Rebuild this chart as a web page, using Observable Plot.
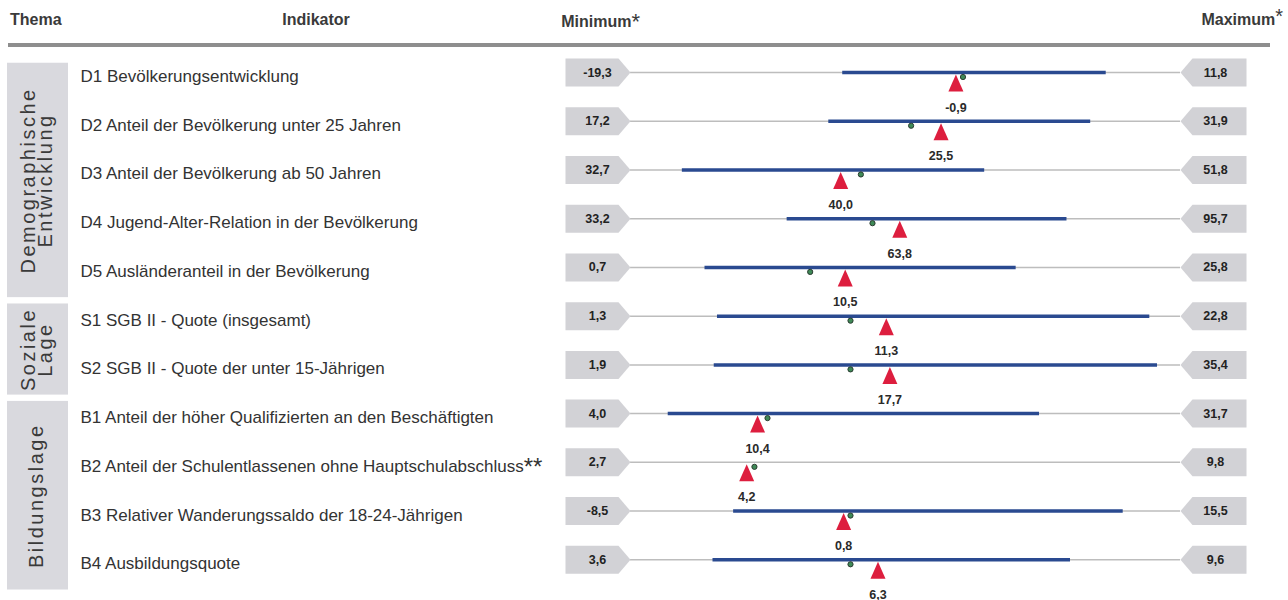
<!DOCTYPE html>
<html><head><meta charset="utf-8">
<script src="https://cdn.jsdelivr.net/npm/d3@7"></script>
<script src="https://cdn.jsdelivr.net/npm/@observablehq/plot@0.6"></script>
<style>
body{margin:0;background:#fff;font-family:"Liberation Sans",Arial,sans-serif;}
#header{position:relative;width:1288px;height:50px;color:#3a3a3a;font-weight:bold;font-size:16px;}
#header .h{position:absolute;top:11px;line-height:18px;white-space:nowrap;}
#header .star{font-weight:normal;font-size:22px;position:relative;top:2px;}
#header sup{font-weight:normal;font-size:20px;line-height:0;position:relative;top:-2px;vertical-align:baseline;}
#rule{position:absolute;left:8px;top:43px;width:1262px;height:4px;background:#8e8e8e;}
</style></head><body>
<div id="header">
<span class="h" style="left:10px">Thema</span>
<span class="h" style="left:316px;transform:translateX(-50%)">Indikator</span>
<span class="h" style="right:648px">Minimum<span class="star">*</span></span>
<span class="h" style="right:5px">Maximum<sup>*</sup></span>
<div id="rule"></div>
</div>
<div id="chart"></div>
<script>
// ---- data ----
const indicators = [
  "D1 Bevölkerungsentwicklung",
  "D2 Anteil der Bevölkerung unter 25 Jahren",
  "D3 Anteil der Bevölkerung ab 50 Jahren",
  "D4 Jugend-Alter-Relation in der Bevölkerung",
  "D5 Ausländeranteil in der Bevölkerung",
  "S1 SGB II - Quote (insgesamt)",
  "S2 SGB II - Quote der unter 15-Jährigen",
  "B1 Anteil der höher Qualifizierten an den Beschäftigten",
  "B2 Anteil der Schulentlassenen ohne Hauptschulabschluss**",
  "B3 Relativer Wanderungssaldo der 18-24-Jährigen",
  "B4 Ausbildungsquote"
];
const themes = ["Demographische\nEntwicklung", "Soziale\nLage", "Bildungslage"];
const themeOf = [0, 0, 0, 0, 0, 1, 1, 2, 2, 2, 2];
const minima = [-19.3, 17.2, 32.7, 33.2, 0.7, 1.3, 1.9, 4.0, 2.7, -8.5, 3.6];
const maxima = [11.8, 31.9, 51.8, 95.7, 25.8, 22.8, 35.4, 31.7, 9.8, 15.5, 9.6];
const values = [-0.9, 25.5, 40.0, 63.8, 10.5, 11.3, 17.7, 10.4, 4.2, 0.8, 6.3];
const rangeLow = [-7.3, 22.5, 34.5, 51.0, 4.1, 4.7, 7.0, 5.9, null, -4.0, 4.5];
const rangeHigh = [7.6, 29.5, 45.0, 82.8, 18.3, 21.6, 34.0, 24.6, null, 13.0, 8.4];
const means = [-0.5, 24.7, 40.7, 60.7, 8.9, 9.9, 15.3, 10.9, 4.3, 1.1, 6.0];

// ---- derived tables ----
const fmt = v => v.toFixed(1).replace(".", ",");
const rows = indicators.map((label, i) => {
  const span = maxima[i] - minima[i];
  const norm = v => v == null ? null : (v - minima[i]) / span;
  return {i, label, min: minima[i], max: maxima[i], value: values[i],
    t: norm(values[i]), lo: norm(rangeLow[i]), hi: norm(rangeHigh[i]), m: norm(means[i])};
});
const themeBoxes = themes.map((name, k) => {
  const idx = themeOf.map((t, i) => t === k ? i : null).filter(i => i != null);
  const first = d3.min(idx), last = d3.max(idx);
  return {name, y1: k === 0 ? first - 0.19 : first - 0.25, y2: last + 0.62};
});

// ---- custom symbols ----
const minBox = {draw(c) { c.moveTo(0, 0); c.lineTo(-12, -14); c.lineTo(-65, -14); c.lineTo(-65, 14); c.lineTo(-12, 14); c.closePath(); }};
const maxBox = {draw(c) { c.moveTo(0, 0); c.lineTo(12, -14); c.lineTo(66, -14); c.lineTo(66, 14); c.lineTo(12, 14); c.closePath(); }};
const tri = {draw(c) { c.moveTo(0, 2); c.lineTo(7.5, 19); c.lineTo(-7.5, 19); c.closePath(); }};

const plot = Plot.plot({
  width: 1288,
  height: 550,
  margin: 0,
  x: {domain: [0, 1], range: [630, 1180], axis: null},
  y: {domain: [0, 10], range: [22, 509.3], axis: null},
  style: {fontFamily: "'Liberation Sans', Arial, sans-serif", background: "white", overflow: "visible"},
  marks: [
    Plot.rect(themeBoxes, {x1: 0, x2: 0, y1: "y1", y2: "y2", insetLeft: -623, insetRight: 562, fill: "#d9d9de"}),
    Plot.text(themeBoxes, {x: 0, y: d => (d.y1 + d.y2) / 2, dx: -592.5, text: "name", rotate: -90,
      fontSize: 20, lineHeight: 0.85, fill: "#3a3a3a"}),
    Plot.text(rows, {x: 0, y: "i", dx: -550, dy: 4, text: "label", textAnchor: "start", fontSize: 17, fill: "#333"}),
    Plot.ruleY(rows, {y: "i", x1: 0, x2: 1, stroke: "#bdbdbd", strokeWidth: 1.5}),
    Plot.ruleY(rows.filter(d => d.lo != null), {y: "i", x1: "lo", x2: "hi", stroke: "#2a4a90", strokeWidth: 3.5}),
    Plot.dot(rows, {x: 0, y: "i", symbol: minBox, fill: "#d2d2d6", stroke: "none"}),
    Plot.dot(rows, {x: 1, y: "i", symbol: maxBox, fill: "#d2d2d6", stroke: "none"}),
    Plot.text(rows, {x: 0, y: "i", dx: -33, text: d => fmt(d.min), fontWeight: "bold", fontSize: 12.5, fill: "#222"}),
    Plot.text(rows, {x: 1, y: "i", dx: 35, text: d => fmt(d.max), fontWeight: "bold", fontSize: 12.5, fill: "#222"}),
    Plot.dot(rows, {x: "t", y: "i", symbol: tri, fill: "#dd1e3e", stroke: "none"}),
    Plot.dot(rows, {x: "m", y: "i", dy: 4.5, r: 2.6, fill: "#3f8a57", stroke: "#2b3b31", strokeWidth: 1}),
    Plot.text(rows, {x: "t", y: "i", dy: 35, text: d => fmt(d.value), fontWeight: "bold", fontSize: 12.5, fill: "#2a2a2a"})
  ]
});
document.getElementById("chart").appendChild(plot);

// post-process: letter spacing for theme labels, larger footnote stars
d3.select(plot).selectAll("text").each(function() {
  const el = this;
  const txt = el.textContent;
  if (themes.some(t => t.replace("\n", "") === txt)) el.style.letterSpacing = "2.5px";
  if (el.childNodes.length === 1 && txt.endsWith("**")) {
    el.textContent = txt.slice(0, -2);
    const ts = document.createElementNS("http://www.w3.org/2000/svg", "tspan");
    ts.setAttribute("font-size", "24");
    ts.setAttribute("dy", "3");
    ts.textContent = "**";
    el.appendChild(ts);
  }
});
</script>
</body></html>
